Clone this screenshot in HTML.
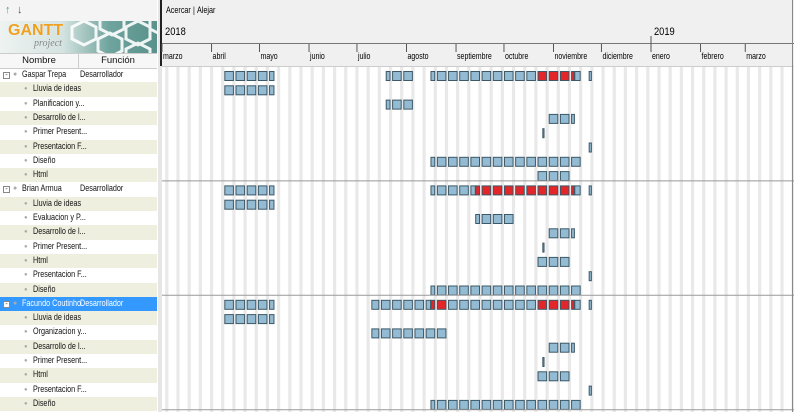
<!DOCTYPE html>
<html><head><meta charset="utf-8">
<style>
body{margin:0;width:794px;height:412px;overflow:hidden;background:#fff;font-family:"Liberation Sans",sans-serif;font-size:9.5px;color:#111}
#left{position:absolute;left:0;top:0;width:158px;height:412px;background:#fff;border-right:1px solid #bbb}
#split{position:absolute;left:158px;top:0;width:4px;height:412px;background:#e6e6e6}
.row{position:absolute;left:0;width:157px;height:14.3px;line-height:14.3px;white-space:nowrap}
.row .t{display:inline-block;transform:scaleX(0.76);transform-origin:0 50%}
.beige{background:#efefdf}
.sel{background:#3399ff;color:#fff}
svg{position:absolute;left:0;top:0}
</style></head><body>
<div id="left">
  <div style="position:absolute;left:0;top:0;width:157px;height:21px;background:#f4f4f4">
    <span style="position:absolute;left:5px;top:4px;color:#4a9a8a;font-size:11px">&#8593;</span>
    <span style="position:absolute;left:17px;top:4px;color:#555;font-size:11px">&#8595;</span>
  </div>
  <div style="position:absolute;left:0;top:21px;width:157px;height:32px;background:linear-gradient(90deg,#eef3f1 0%,#d4e3e0 40%,#6fa39d 70%,#5a918b 100%);overflow:hidden">
    <svg width="157" height="32">
      <g fill="none" stroke="#fff" stroke-width="3" opacity="0.9">
        <polygon points="72,6 84,0 96,6 96,18 84,24 72,18"/>
        <polygon points="98,18 110,12 122,18 122,30 110,36 98,30"/>
        <polygon points="100,-4 112,-10 124,-4 124,8 112,14 100,8"/>
        <polygon points="126,6 138,0 150,6 150,18 138,24 126,18"/>
        <polygon points="126,28 138,22 150,28 150,40 138,46 126,40"/>
        <polygon points="150,-4 162,-10 174,-4 174,8 162,14 150,8"/>
      </g>
    </svg>
    <span style="position:absolute;left:8px;top:1px;color:#f0a020;font-weight:bold;font-size:16px;text-shadow:0 0 1px #fff">GANTT</span>
    <span style="position:absolute;left:34px;top:17px;color:#888;font-style:italic;font-family:'Liberation Serif',serif;font-size:10px">project</span>
  </div>
  <div style="position:absolute;left:0;top:53px;width:157px;height:14px;background:#f7f7f7;border-top:1px solid #ccc;border-bottom:1px solid #ccc;line-height:14px">
    <span style="position:absolute;left:0;width:78px;text-align:center;border-right:1px solid #ccc">Nombre</span>
    <span style="position:absolute;left:79px;width:78px;text-align:center">Función</span>
  </div>
  <div id="rows"></div>
</div>
<div id="split"></div>
<svg id="chart" width="794" height="412" style="left:0"></svg>
<script>
// ---- data ----
const groups=["Gaspar Trepa","Brian Armua","Facundo Coutinho"];
const roles=["Desarrollador","Desarrollador","Desarrollador"];
const taskNames=[
 ["Lluvia de ideas","Planificacion y...","Desarrollo de l...","Primer Present...","Presentacion F...","Diseño","Html"],
 ["Lluvia de ideas","Evaluacion y P...","Desarrollo de l...","Primer Present...","Html","Presentacion F...","Diseño"],
 ["Lluvia de ideas","Organizacion y...","Desarrollo de l...","Primer Present...","Html","Presentacion F...","Diseño"]];
const taskStart=[
 ["2018-04-09","2018-07-19","2018-10-29","2018-10-25","2018-11-23","2018-08-16","2018-10-22"],
 ["2018-04-09","2018-09-13","2018-10-29","2018-10-25","2018-10-22","2018-11-23","2018-08-16"],
 ["2018-04-09","2018-07-10","2018-10-29","2018-10-25","2018-10-22","2018-11-23","2018-08-16"]];
const taskEnd=[
 ["2018-05-09","2018-08-03","2018-11-13","2018-10-25","2018-11-23","2018-11-16","2018-11-09"],
 ["2018-05-09","2018-10-05","2018-11-13","2018-10-25","2018-11-09","2018-11-23","2018-11-16"],
 ["2018-05-09","2018-08-24","2018-11-13","2018-10-25","2018-11-09","2018-11-23","2018-11-16"]];
// extra overload periods reported by the resource summary (beyond visible overlaps)
const overloadStart=[null,"2018-09-13",null];
const overloadEnd=[null,"2018-11-13",null];
const monthLabels=["marzo","abril","mayo","junio","julio","agosto","septiembre","octubre","noviembre","diciembre","enero","febrero","marzo"];
const yearLabels=["2018","2019"];
// ---- scales ----
const T0=Date.UTC(2018,2,1), DAY=86400000, PXD=1.598, X0=162;
const dayOf=s=>Math.round((Date.parse(s+"T00:00:00Z")-T0)/DAY);
const x=d=>X0+d*PXD;
const ROWH=14.3, Y0=68;
const yRow=i=>Y0+i*ROWH;
const NS="http://www.w3.org/2000/svg";
const svg=document.getElementById('chart');
function mk(t,a,p){const e=document.createElementNS(NS,t);for(const k in a)e.setAttribute(k,a[k]);(p||svg).appendChild(e);return e;}
function txt(s,xx,yy,fs,sx){const e=mk('text',{x:0,y:0,'font-size':fs,transform:'translate('+xx+','+yy+') scale('+sx+',1)'});e.textContent=s;return e;}
let e;
e=mk('rect',{x:162,y:0,width:632,height:66,fill:'#f0f0f0'});


e=txt('Acercar',166,13,9.5,0.76);


e=txt('|',193,13,9.5,0.76);


e=txt('Alejar',197,13,9.5,0.76);


mk('rect',{x:160,y:0,width:2,height:66,fill:'#222'});
mk('line',{x1:162,y1:43.5,x2:794,y2:43.5,stroke:'#777'});
mk('line',{x1:162,y1:66.5,x2:794,y2:66.5,stroke:'#ccc'});
for(let d=0;d<400;d++){const dow=(4+d)%7;
 if(dow===6&&x(d)<794){e=mk('rect',{x:x(d),y:67,width:2*PXD,height:345,fill:'#e9e9e9'});
 
 }}
monthLabels.forEach((m,i)=>{const dt=Date.UTC(2018,2+i,1);const d=Math.round((dt-T0)/DAY);const xx=x(d);
 mk('line',{x1:xx,y1:44,x2:xx,y2:52,stroke:'#555'});
 e=txt(m,xx+1,59,9,0.78);
 
 });
yearLabels.forEach((yl,i)=>{const d=Math.round((Date.UTC(2018+i,i?0:2,1)-T0)/DAY);const xx=x(d);
 if(i)mk('line',{x1:xx,y1:36,x2:xx,y2:52,stroke:'#555'});
 e=txt(yl,xx+3,35,11,0.85);
 
 });
function drawRuns(row,days,colorFn){
 const ds=Object.keys(days).map(Number).sort((a,b)=>a-b);
 let cur=null;
 const flush=()=>{if(!cur)return;const r=mk('rect',{x:x(cur.s)+0.5,y:yRow(row)+3.5,width:(cur.e-cur.s+1)*PXD+(cur.full?0.6:-0.4),height:9,fill:cur.c,stroke:'#3d5866','stroke-width':1});
  
  cur=null;};
 ds.forEach(d=>{const dow=(4+d)%7;if(dow===0||dow===6)return;const c=colorFn(days[d]);
  if(cur&&cur.e===d-1&&cur.c===c&&dow!==1){cur.e=d;}else{flush();cur={s:d,e:d,c:c};}
  cur.full=(dow===5);});
 flush();
}
const rowsDiv=document.getElementById('rows');
groups.forEach((g,gi)=>{
 const base=gi*8;
 const counts={};
 taskNames[gi].forEach((t,ti)=>{const s=dayOf(taskStart[gi][ti]),en=dayOf(taskEnd[gi][ti]);const m={};
  for(let d=s;d<=en;d++){m[d]=1;counts[d]=(counts[d]||0)+1;}
  drawRuns(base+1+ti,m,()=>'#93bcd4');});
 if(overloadStart[gi]){const s=dayOf(overloadStart[gi]),en=dayOf(overloadEnd[gi]);for(let d=s;d<=en;d++)if(counts[d])counts[d]=Math.max(counts[d],2);}
 drawRuns(base,counts,c=>c>1?'#e2262a':'#93bcd4');
 e=mk('line',{x1:162,y1:yRow(base+8)-1.5,x2:794,y2:yRow(base+8)-1.5,stroke:'#999'});
 
 
 const r=document.createElement('div');r.className='row'+(gi===2?' sel':'');r.style.top=yRow(base)+'px';
 
 
 r.innerHTML='<span style="position:absolute;left:3px;top:4px;width:5px;height:5px;border:1px solid #888;background:#fff;line-height:5px;font-size:7px;color:#333;text-align:center">-</span><span style="position:absolute;left:13px;color:#aaa;font-size:7px">&#9679;</span><span class="t" style="position:absolute;left:22px">'+g+'</span><span class="t" style="position:absolute;left:80px">'+roles[gi]+'</span>';
 rowsDiv.appendChild(r);
 taskNames[gi].forEach((t,ti)=>{const tr=document.createElement('div');tr.className='row'+(ti%2===0?' beige':'');tr.style.top=yRow(base+1+ti)+'px';
  
  
  tr.innerHTML='<span style="position:absolute;left:24px;color:#aaa;font-size:6px">&#9679;</span><span class="t" style="position:absolute;left:33px">'+t+'</span>';
  rowsDiv.appendChild(tr);});
});
mk('line',{x1:792.5,y1:0,x2:792.5,y2:412,stroke:'#888'});
</script>
</body></html>
